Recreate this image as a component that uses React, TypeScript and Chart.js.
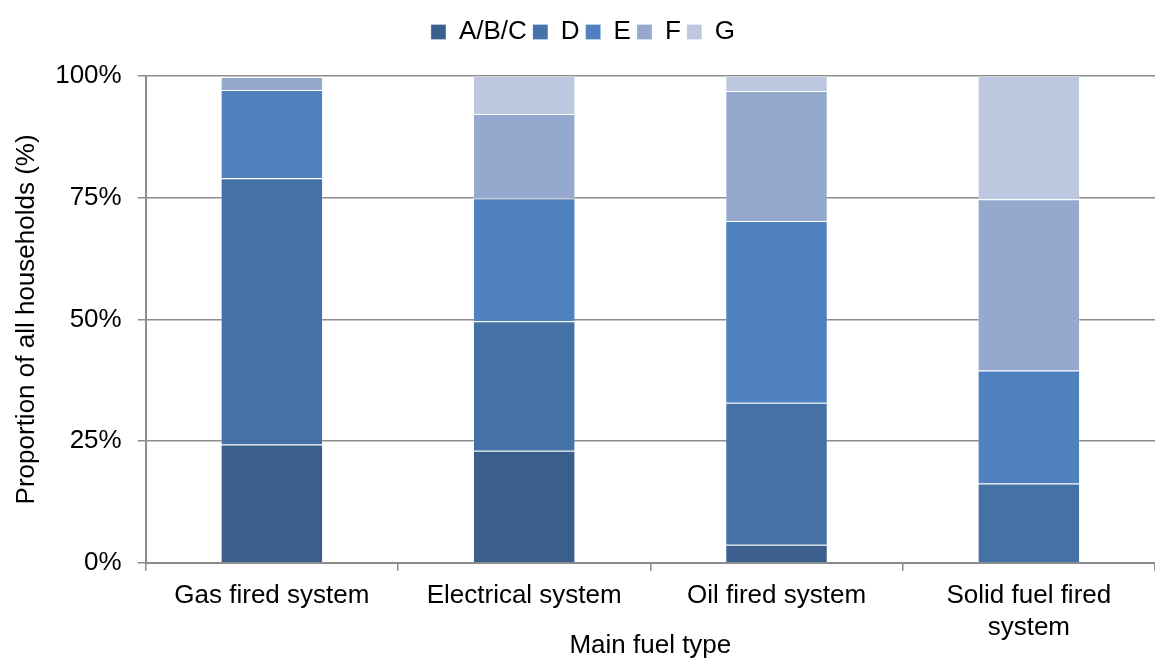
import React, { useEffect, useRef } from "react";
import { Chart, registerables } from "chart.js";

Chart.register(...registerables);

const categories: (string | string[])[] = [
  "Gas fired system",
  "Electrical system",
  "Oil fired system",
  ["Solid fuel fired", "system"],
];
const seriesNames = ["A/B/C", "D", "E", "F", "G"];
const abc = [24.3, 23.0, 3.7, 0];
const d = [54.7, 26.6, 29.2, 16.3];
const e = [18.1, 25.3, 37.3, 23.2];
const f = [2.7, 17.3, 26.7, 35.2];
const g = [0.2, 7.8, 3.1, 25.3];
const yTicks = [0, 25, 50, 75, 100];
const colors = ["#3A5F8D", "#4472A6", "#4E81BD", "#95A9CF", "#BCC8E0"];

const legendSpacer = {
  id: "legendSpacer",
  beforeInit(chart: any) {
    const orig = chart.legend.fit;
    chart.legend.fit = function () {
      orig.bind(chart.legend)();
      this.height += 21;
    };
  },
};

export default function App() {
  const ref = useRef<HTMLCanvasElement | null>(null);
  useEffect(() => {
    if (!ref.current) return;
    const values = [abc, d, e, f, g];
    const font = { family: "'Liberation Sans', Arial, sans-serif", size: 26 };
    const chart = new Chart(ref.current, {
      type: "bar",
      data: {
        labels: categories,
        datasets: seriesNames.map((name, i) => ({
          label: name,
          data: values[i],
          backgroundColor: colors[i],
          borderColor: "rgba(255,255,255,0.25)",
          borderWidth: 1,
          barPercentage: 0.406,
          categoryPercentage: 1,
        })),
      },
      options: {
        animation: false,
        responsive: false,
        maintainAspectRatio: false,
        layout: { padding: { left: 11, right: 0, top: 13, bottom: 0 } },
        plugins: {
          legend: {
            position: "top",
            labels: {
              boxWidth: 15,
              boxHeight: 15,
              padding: 6,
              color: "#000",
              font,
            },
          },
          tooltip: { enabled: false },
        },
        scales: {
          x: {
            stacked: true,
            offset: true,
            grid: {
              offset: true,
              drawOnChartArea: false,
              drawTicks: true,
              tickLength: 8,
              color: "#8c8c8c",
              lineWidth: 1.5,
            },
            border: { color: "#8c8c8c", width: 2 },
            ticks: {
              color: "#000",
              font: { ...font, lineHeight: 1.23 },
              padding: 9,
              maxRotation: 0,
              autoSkip: false,
            },
            title: {
              display: true,
              text: "Main fuel type",
              color: "#000",
              font,
              padding: { top: -23, bottom: -3 },
            },
          },
          y: {
            stacked: true,
            min: 0,
            max: 100,
            afterBuildTicks: (axis: any) => {
              axis.ticks = yTicks.map((v) => ({ value: v }));
            },
            grid: {
              color: "#8c8c8c",
              lineWidth: 1.5,
              tickLength: 8,
            },
            border: { color: "#8c8c8c", width: 2 },
            ticks: {
              color: "#000",
              font,
              padding: 16,
              callback: (v: any) => v + "%",
            },
            title: {
              display: true,
              text: "Proportion of all households (%)",
              color: "#000",
              font,
              padding: { top: 0, bottom: -3 },
            },
          },
        },
      },
      plugins: [legendSpacer],
    });
    return () => chart.destroy();
  }, []);
  return (
    <div style={{ position: "fixed", left: 0, top: 0, width: 1155, height: 658, background: "#fff" }}>
      <canvas ref={ref} width={1155} height={658} style={{ width: 1155, height: 658 }} />
    </div>
  );
}
